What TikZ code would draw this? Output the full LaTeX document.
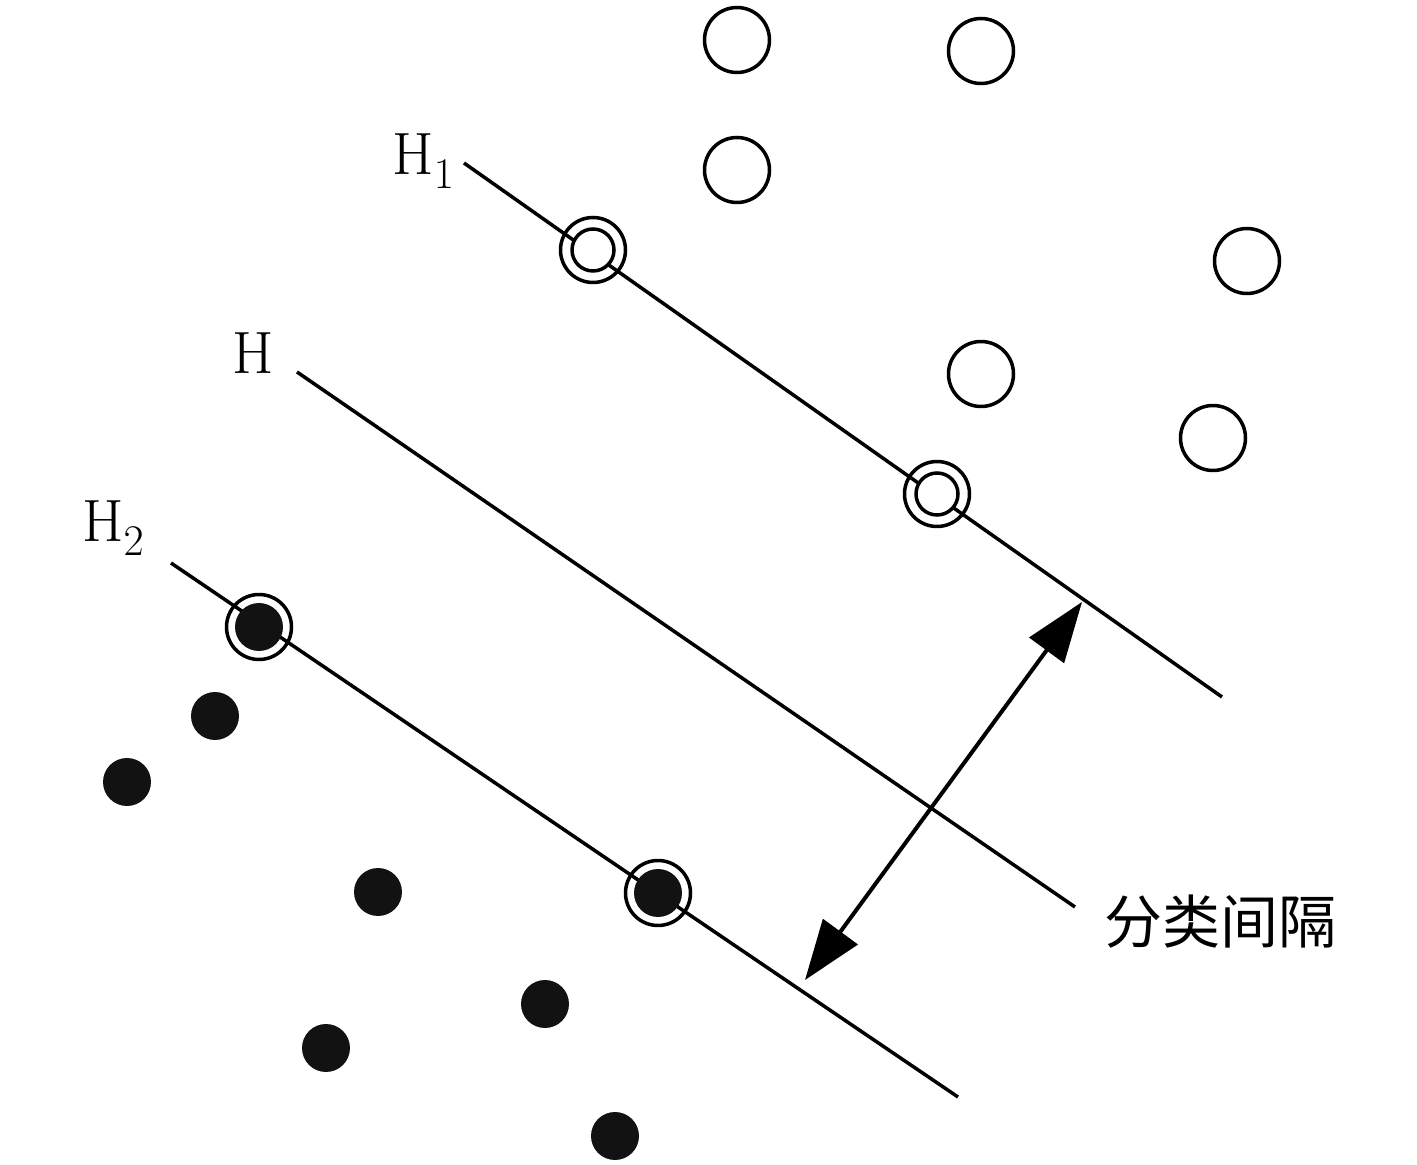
\documentclass[tikz,border=0pt]{standalone}
\usepackage{fontspec}
\newfontfamily\cjk{Noto Sans CJK SC}
\usetikzlibrary{arrows.meta}
\tikzset{
  open/.style={circle,draw,line width=0.07cm,minimum size=1.3cm,inner sep=0pt,fill=white},
  support/.style={circle,draw,line width=0.07cm,minimum size=1.3cm,inner sep=0pt},
  inneropen/.style={circle,draw,line width=0.07cm,minimum size=0.84cm,inner sep=0pt,fill=white},
  dot/.style={circle,fill=black!93,minimum size=0.96cm,inner sep=0pt},
  hyper/.style={line width=0.07cm},
  lbl/.style={inner sep=0pt,font=\fontsize{34}{38}\selectfont},
}
\begin{document}
\begin{tikzpicture}[x=0.02cm,y=-0.02cm]
\useasboundingbox (0,0) rectangle (1417,1165);
% hyperplanes
\coordinate (h1s) at (464,163); \coordinate (h1e) at (1222,697);
\coordinate (hs) at (297,372);  \coordinate (he) at (1075,907);
\coordinate (h2s) at (171,563); \coordinate (h2e) at (958,1097);
\draw[hyper] (h1s) -- (h1e);
\draw[hyper] (hs) -- (he);
\draw[hyper] (h2s) -- (h2e);
% labels
\node[lbl,anchor=base west] (lH1) at (392,175) {H$_1$};
\node[lbl,anchor=base west] (lH) at (232,374) {H};
\node[lbl,anchor=base west] (lH2) at (82,542) {H$_2$};
\node[lbl,anchor=west,font=\cjk\fontsize{33}{38}\selectfont] (lm) at (1104,922) {分类间隔};
% open circles
\node[open] (o1) at (737,40) {};
\node[open] (o2) at (981,51) {};
\node[open] (o3) at (737,170) {};
\node[open] (o4) at (1247,261) {};
\node[open] (o5) at (981,374) {};
\node[open] (o6) at (1213,438) {};
% support vectors (open)
\node[support] (s1) at (593,250) {};
\node[inneropen] (s1i) at (593,250) {};
\node[support] (s2) at (937,494) {};
\node[inneropen] (s2i) at (937,494) {};
% support vectors (filled)
\node[support] (s3) at (259,627) {};
\node[dot] (s3i) at (259,627) {};
\node[support] (s4) at (658,893) {};
\node[dot] (s4i) at (658,893) {};
% filled dots
\node[dot] (d1) at (215,716) {};
\node[dot] (d2) at (127,782) {};
\node[dot] (d3) at (378,892) {};
\node[dot] (d4) at (545,1004) {};
\node[dot] (d5) at (326,1048) {};
\node[dot] (d6) at (615,1136) {};
% margin arrow
\coordinate (a1) at (1082,602);
\coordinate (a2) at (805,980);
\draw[line width=0.08cm,{Triangle[length=1.2cm,width=0.85cm]}-{Triangle[length=1.2cm,width=0.85cm]}] (a2) -- (a1);
\end{tikzpicture}
\end{document}
